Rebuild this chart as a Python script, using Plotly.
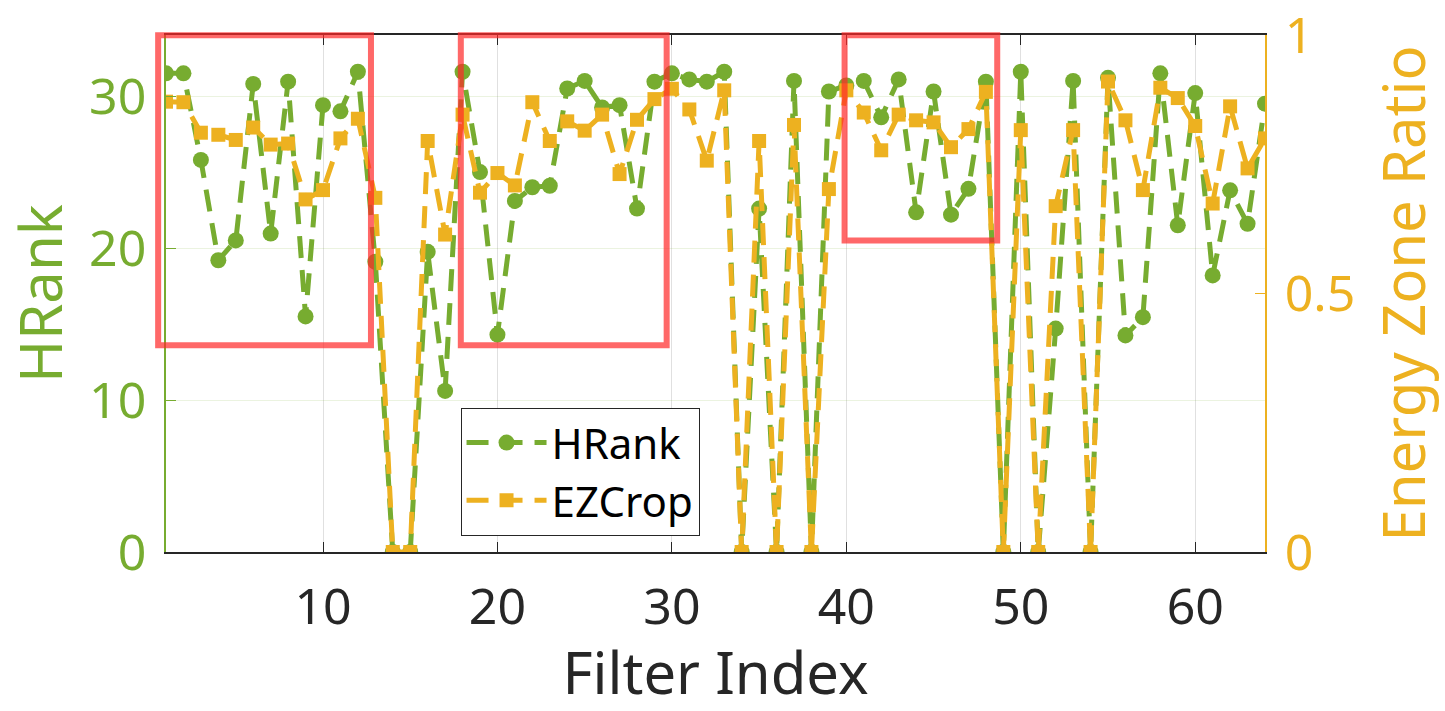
import plotly.graph_objects as go

filter_index = list(range(1, 65))
hrank = [31.5, 31.5, 25.8, 19.2, 20.5, 30.8, 20.95, 30.95, 15.5, 29.4,
         29.0, 31.6, 19.1, 0, 0, 19.75, 10.6, 31.6, 25.0, 14.3,
         23.1, 24.0, 24.1, 30.5, 31.0, 29.25, 29.4, 22.6, 30.95, 31.5,
         31.1, 30.95, 31.6, 0, 22.6, 0, 31.0, 0, 30.3, 30.7,
         31.0, 28.6, 31.1, 22.35, 30.3, 22.2, 23.9, 30.95, 0, 31.6,
         0, 14.7, 31.0, 0, 31.2, 14.25, 15.45, 31.5, 21.5, 30.2,
         18.2, 23.8, 21.6, 29.5]
ezcrop = [0.871, 0.870, 0.811, 0.807, 0.797, 0.821, 0.788, 0.790, 0.682, 0.700,
          0.800, 0.838, 0.685, 0, 0, 0.795, 0.614, 0.846, 0.695, 0.733,
          0.709, 0.870, 0.795, 0.833, 0.815, 0.846, 0.731, 0.836, 0.876, 0.896,
          0.856, 0.757, 0.893, 0, 0.795, 0, 0.826, 0, 0.702, 0.893,
          0.850, 0.777, 0.846, 0.835, 0.831, 0.783, 0.818, 0.890, 0, 0.816,
          0, 0.669, 0.816, 0, 0.910, 0.835, 0.700, 0.898, 0.878, 0.824,
          0.674, 0.862, 0.742, 0.800]

x_ticks = [10, 20, 30, 40, 50, 60]
left_ticks = [0, 10, 20, 30]
right_ticks = [0, 0.5, 1]
right_tick_text = ["0", "0.5", "1"]

X_RANGE = [1, 64]
Y_RANGE = [0, 34.02]

# highlight boxes (x0, x1, y0, y1) in data coordinates of the left axis
box_x0 = [0.55, 17.9, 39.9]
box_x1 = [12.75, 29.7, 48.65]
box_y0 = [13.6, 13.6, 20.5]
box_y1 = [34.0, 34.0, 34.0]

GREEN = "#77AC30"
ORANGE = "#EDB120"
AXIS = "#262626"
FONT = "Noto Sans"


def px(v):
    return (v - X_RANGE[0]) / (X_RANGE[1] - X_RANGE[0])


def py(v):
    return (v - Y_RANGE[0]) / (Y_RANGE[1] - Y_RANGE[0])


fig = go.Figure()
fig.add_trace(go.Scatter(
    x=filter_index, y=hrank, name="HRank", mode="lines+markers",
    line=dict(color=GREEN, width=5, dash="22px,12px"),
    marker=dict(symbol="circle", size=16, color=GREEN),
    yaxis="y"))
fig.add_trace(go.Scatter(
    x=filter_index, y=ezcrop, name="EZCrop", mode="lines+markers",
    line=dict(color=ORANGE, width=5, dash="22px,12px"),
    marker=dict(symbol="square", size=14, color=ORANGE),
    yaxis="y2"))

for a, b, c, d in zip(box_x0, box_x1, box_y0, box_y1):
    fig.add_shape(type="rect", xref="paper", yref="paper",
                  x0=px(a), x1=px(b), y0=py(c), y1=py(d),
                  line=dict(color="rgba(255,40,40,0.7)", width=6),
                  fillcolor="rgba(0,0,0,0)", layer="above")

fig.update_layout(
    width=1445, height=711,
    margin=dict(l=166, r=180, t=35, b=159, autoexpand=False),
    paper_bgcolor="white", plot_bgcolor="white",
    font=dict(family=FONT, size=50, color=AXIS),
    showlegend=True,
    legend=dict(x=0.268, y=0.279, xanchor="left", yanchor="top",
                bgcolor="white", bordercolor=AXIS, borderwidth=1,
                font=dict(family=FONT, size=42, color="black"),
                itemwidth=80, tracegroupgap=0),
    xaxis=dict(range=X_RANGE, tickvals=x_ticks, showline=True, linecolor=AXIS,
               linewidth=1.5, mirror="ticks", ticks="inside", ticklen=10,
               tickcolor=AXIS, showgrid=True, gridcolor="rgba(0,0,0,0.12)",
               zeroline=False, tickfont=dict(size=50, color=AXIS),
               ticklabelstandoff=10, automargin=False,
               title=dict(text="Filter Index", font=dict(size=58, color=AXIS),
                          standoff=12)),
    yaxis=dict(range=Y_RANGE, tickvals=left_ticks, showline=True,
               linecolor=GREEN, linewidth=1.5, ticks="inside", ticklen=10,
               tickcolor=GREEN, showgrid=True, automargin=False,
               gridcolor="rgba(119,172,48,0.15)", zeroline=False,
               tickfont=dict(size=50, color=GREEN), ticklabelstandoff=8,
               ticklabeloverflow="allow",
               title=dict(text="HRank", font=dict(size=58, color=GREEN),
                          standoff=12)),
    yaxis2=dict(range=[0, 1], tickvals=right_ticks, ticktext=right_tick_text,
                overlaying="y", side="right", showline=True, linecolor=ORANGE,
                linewidth=1.5, ticks="inside", ticklen=10, tickcolor=ORANGE,
                showgrid=False, zeroline=False, automargin=False,
                tickfont=dict(size=50, color=ORANGE), ticklabelstandoff=8,
                ticklabeloverflow="allow",
                title=dict(text="Energy Zone Ratio",
                           font=dict(size=58, color=ORANGE), standoff=30)),
)

fig.write_html("out.html")
